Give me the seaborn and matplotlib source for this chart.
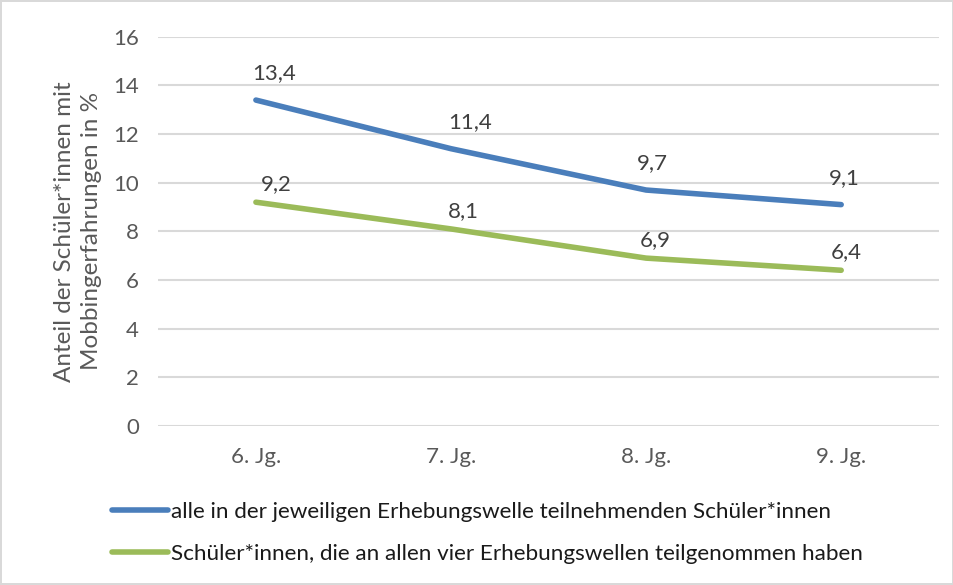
import matplotlib
matplotlib.use("Agg")
import matplotlib.pyplot as plt
import seaborn as sns
import pandas as pd

categories = ["6. Jg.", "7. Jg.", "8. Jg.", "9. Jg."]
series_all = [13.4, 11.4, 9.7, 9.1]
series_panel = [9.2, 8.1, 6.9, 6.4]
name_all = "alle in der jeweiligen Erhebungswelle teilnehmenden Schüler*innen"
name_panel = "Schüler*innen, die an allen vier Erhebungswellen teilgenommen haben"
y_ticks = [0, 2, 4, 6, 8, 10, 12, 14, 16]

df = pd.DataFrame({
    "Jahrgang": categories * 2,
    "Anteil": series_all + series_panel,
    "Gruppe": [name_all] * 4 + [name_panel] * 4,
})

sns.set_theme(style="white")
plt.rcParams["font.family"] = ["Lato", "DejaVu Sans"]

grey = "#595959"
colors = {name_all: "#4A7EBB", name_panel: "#9BBB59"}

fig = plt.figure(figsize=(9.54, 5.85), dpi=100)
fig.patch.set_edgecolor("#D9D9D9")
fig.patch.set_linewidth(1.5)
ax = fig.add_axes([0.166, 0.272, 0.818, 0.665])

sns.lineplot(data=df, x="Jahrgang", y="Anteil", hue="Gruppe", palette=colors,
             linewidth=4, ax=ax, sort=False, solid_capstyle="round", legend=False)

ax.set_ylim(0, 16)
ax.set_xlim(-0.5, 3.5)
ax.set_yticks(y_ticks)
ax.yaxis.grid(True, color="#D9D9D9", linewidth=1.5)
ax.set_axisbelow(True)
for s in ax.spines.values():
    s.set_visible(False)
ax.tick_params(axis="both", length=0, labelsize=16, labelcolor=grey)
ax.tick_params(axis="y", pad=14)
ax.tick_params(axis="x", pad=15)
ax.set_xlabel("")
ax.set_ylabel("Anteil der Schüler*innen mit\nMobbingerfahrungen in %",
              fontsize=17.5, color=grey, labelpad=8, linespacing=1.35)

# data labels above the points (offsets in pixels)
dx_all = [18, 19, 6, 3]
dx_panel = [20, 12, 9, 5]
for i, v in enumerate(series_all):
    ax.annotate(f"{v:.1f}".replace(".", ","), (i, v), xytext=(dx_all[i], 27),
                textcoords="offset pixels", ha="center", va="center",
                fontsize=16, color="#404040")
for i, v in enumerate(series_panel):
    ax.annotate(f"{v:.1f}".replace(".", ","), (i, v), xytext=(dx_panel[i], 18),
                textcoords="offset pixels", ha="center", va="center",
                fontsize=16, color="#404040")

handles = [plt.Line2D([], [], color=colors[n], linewidth=4, solid_capstyle="round")
           for n in (name_all, name_panel)]
fig.legend(handles, [name_all, name_panel], loc="upper left",
           bbox_to_anchor=(0.117, 0.142), frameon=False, fontsize=16.2,
           handlelength=2.5, handletextpad=0.13, labelspacing=0.98,
           labelcolor="#1a1a1a", borderaxespad=0, borderpad=0)

fig.savefig("out.png", dpi=100)
